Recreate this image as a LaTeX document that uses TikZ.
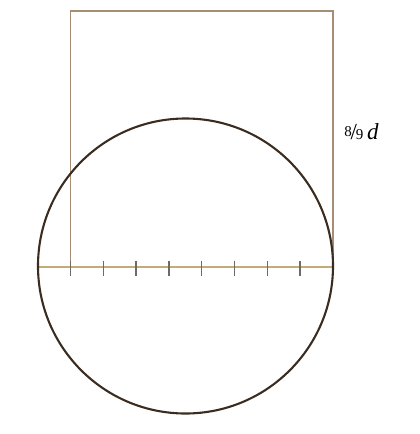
\documentclass[tikz,border=0pt]{standalone}
\usepackage{fontspec}
\setmainfont{Liberation Serif}

\tikzset{
  sqline/.style={color=squarebrown, line width=0.65pt},
  diamline/.style={color=diamtan, line width=0.65pt},
  tickmark/.style={color=tickgrey, line width=0.65pt},
  rim/.style={color=rimbrown, line width=1.05pt}
}
\definecolor{squarebrown}{HTML}{A68E74}
\definecolor{diamtan}{HTML}{C4AC78}
\definecolor{tickgrey}{HTML}{6E6A66}
\definecolor{rimbrown}{HTML}{3A2C20}

\begin{document}
\begin{tikzpicture}[x=0.5pt,y=-0.5pt]
			\useasboundingbox (0,0) rectangle (419,434);
			\coordinate (c) at (185.5,266);
			\coordinate (w) at (38,267);
			\coordinate (e) at (333,267);
			\coordinate (sqbl) at (70.5,267);
			\coordinate (sqtl) at (70.5,11);
			\coordinate (sqtr) at (333,11);
			% square on 8/9 of the diameter
			\draw[sqline] (sqbl) -- (sqtl) -- (sqtr) -- (e);
			\draw[diamline] (w) -- (e);
			\foreach \k in {0,...,7}
				\draw[tickmark] (70.5+32.8*\k,260.5) -- (70.5+32.8*\k,276);
			\draw[rim] (c) circle(147.5);
			\node[inner sep=0pt, font=\fontsize{11.5}{13}\selectfont] (lbl) at (361.5,132)
				{\raisebox{.35ex}{\fontsize{7.5}{8}\selectfont 8}\kern-.05em/\kern-.05em{\fontsize{7.5}{8}\selectfont 9}\,\textit{d}};
		\end{tikzpicture}
\end{document}
